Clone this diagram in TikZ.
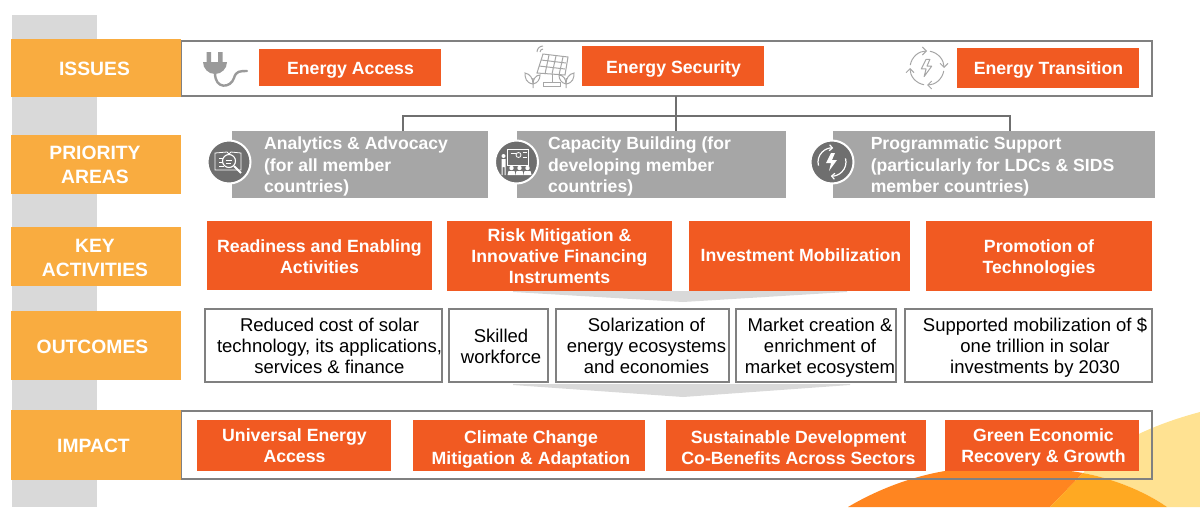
\documentclass[tikz,border=0pt]{standalone}
\usepackage{fontspec}
\setmainfont{Liberation Sans}
\usetikzlibrary{arrows.meta}
\definecolor{labelorange}{HTML}{F9AC40}
\definecolor{boxorange}{HTML}{F15A22}
\definecolor{areagray}{HTML}{A6A6A6}
\definecolor{icongray}{HTML}{6F6F6F}
\definecolor{linegray}{HTML}{808080}
\definecolor{stripgray}{HTML}{D9D9D9}
\newcommand{\boltshape}{(-1,-9) -- (-6,1) -- (-1,1) -- (-3,9) -- (5,-2) -- (0,-2) -- (3,-9) -- cycle}
% lines of a node: [column type]{right shift}{down shift}{text}
\newcommand{\placed}[4][c]{\hspace*{\dimexpr#2pt*2\relax}\raisebox{\dimexpr-7pt-#3pt\relax}[0pt][0pt]{\begin{tabular}{@{}#1@{}}#4\end{tabular}}}
\begin{document}
\begin{tikzpicture}[
    x=1pt,y=-1pt,
    every node/.style={inner sep=0,outer sep=0},
    rowlabel/.style={%
        fill=labelorange,text=white,font=\fontsize{19.3}{24}\selectfont\bfseries,
        minimum width=170},
    issuebox/.style={%
        fill=boxorange,text=white,font=\fontsize{17.7}{21}\selectfont\bfseries},
    areabox/.style={%
        fill=areagray,text=white,font=\fontsize{17.6}{21.5}\selectfont\bfseries},
    outcomebox/.style={%
        draw=linegray,line width=1.8pt,fill=white,text=black,
        font=\fontsize{18.5}{21}\selectfont},
    frame/.style={draw=linegray,line width=2pt},
    iconring/.style={circle,fill=icongray,draw=white,line width=2pt,minimum size=43},
    chevron/.style={fill=stripgray},
    link/.style={draw=icongray,line width=1.8pt},
    iconline/.style={draw=areagray,line width=1.2pt},
    iconwhite/.style={draw=white,line width=1pt},
]
    % Background
    \useasboundingbox (0,0) rectangle (1200,507);
    \fill[color={rgb,255:red,255;green,226;blue,146}] (1200,412) .. controls (1140,428) and (1105,450) .. (1083,473)
        .. controls (1120,480) and (1150,495) .. (1167,507) -- (1200,507) -- cycle;
    \fill[color={rgb,255:red,255;green,133;blue,32}] (848,507) .. controls (880,488) and (920,473) .. (960,469)
        .. controls (1000,465) and (1050,467) .. (1083,473) -- (1050,507) -- cycle;
    \fill[color={rgb,255:red,255;green,169;blue,34}] (1083,473) .. controls (1120,480) and (1150,495) .. (1167,507) -- (1050,507) -- cycle;
    \fill[stripgray] (12,15) rectangle (97,507);

    % Issues
    \node[frame,minimum width=971,minimum height=55] (issueframe) at (666.5,68.5) {};
    \node[rowlabel,minimum height=58] (issues) at (96,68) {\placed{-1.5}{1}{ISSUES}};
    \node[issuebox,minimum width=182,minimum height=37] (access) at (350,67.5) {\placed{0.5}{0.5}{Energy Access}};
    \node[issuebox,minimum width=182,minimum height=40] (security) at (673,66) {\placed{0.5}{1}{Energy Security}};
    \node[issuebox,minimum width=182,minimum height=40] (transition) at (1048,68) {\placed{0.5}{0}{Energy Transition}};

    % Priority areas
    \coordinate (forkl) at (403,116);
    \coordinate (forkm) at (676,116);
    \coordinate (forkr) at (1010,116);
    \node[rowlabel,minimum height=59] (priority) at (96,164.5) {\placed{-1}{0.5}{PRIORITY\\AREAS}};
    \node[areabox,minimum width=256,minimum height=67] (analytics) at (360,164.5)
        {\placed[l]{-4}{0}{Analytics \& Advocacy\\(for all member\\countries)}};
    \node[areabox,minimum width=269,minimum height=67] (capacity) at (651.5,164.5)
        {\placed[l]{-12}{0}{Capacity Building (for\\developing member\\countries)}};
    \node[areabox,minimum width=322,minimum height=67] (programmatic) at (994,164.5)
        {\placed[l]{-1.5}{0}{Programmatic Support\\(particularly for LDCs \& SIDS\\member countries)}};
    \draw[link] (forkl |- analytics.north) -- (forkl) -- (forkr) -- (forkr |- programmatic.north);
    \draw[link] (forkm |- issueframe.south) -- (forkm |- capacity.north);
    \node[iconring] (analyticsicon) at (229,162) {};
    \node[iconring] (capacityicon) at (516.5,162) {};
    \node[iconring] (programmaticicon) at (832,162) {};

    % Key activities
    \node[rowlabel,minimum height=59] (activities) at (96,256.5) {\placed{-1}{1.5}{KEY\\ACTIVITIES}};
    \node[issuebox,minimum width=225,minimum height=69] (readiness) at (319.5,255.5) {\placed{0}{1}{Readiness and Enabling\\Activities}};
    \node[issuebox,minimum width=225,minimum height=70] (risk) at (559.5,256) {\placed{0}{0}{Risk Mitigation \&\\Innovative Financing\\Instruments}};
    \node[issuebox,minimum width=221,minimum height=70] (investment) at (799.5,256) {\placed{1.5}{-1}{Investment Mobilization}};
    \node[issuebox,minimum width=226,minimum height=70] (promotion) at (1039,256) {\placed{0}{0.5}{Promotion of\\Technologies}};
    \fill[chevron] (513,291) -- (847,291) -- (847,292) -- (683,302) -- (513,292) -- cycle;

    % Outcomes
    \node[rowlabel,minimum height=69] (outcomes) at (96,345.5) {\placed{-3.5}{1.5}{OUTCOMES}};
    \node[outcomebox,minimum width=234,minimum height=73] (cost) at (323.5,345.5) {\placed{6}{0.5}{Reduced cost of solar\\technology, its applications,\\services \& finance}};
    \node[outcomebox,minimum width=99,minimum height=73] (workforce) at (498.5,345.5) {\placed{2.5}{1}{Skilled\\workforce}};
    \node[outcomebox,minimum width=173,minimum height=73] (solarization) at (642.5,345.5) {\placed{4}{0.5}{Solarization of\\energy ecosystems\\and economies}};
    \node[outcomebox,minimum width=160,minimum height=73] (market) at (816,345.5) {\placed{4}{0.5}{Market creation \&\\enrichment of\\market ecosystem}};
    \node[outcomebox,minimum width=247,minimum height=73] (mobilization) at (1028.5,345.5) {\placed{6.5}{0.5}{Supported mobilization of \$\\one trillion in solar\\investments by 2030}};
    \fill[chevron] (513,384) -- (850,384) -- (850,385) -- (683,397) -- (513,385) -- cycle;

    % Impact
    \node[frame,minimum width=971,minimum height=68] (impactframe) at (666.5,445) {};
    \node[rowlabel,minimum height=70] (impact) at (96,445) {\placed{-2.5}{1}{IMPACT}};
    \node[issuebox,minimum width=194,minimum height=51] (universal) at (294,445.5) {\placed{0.5}{0}{Universal Energy\\Access}};
    \node[issuebox,minimum width=232,minimum height=51] (climate) at (529,445.5) {\placed{2}{2}{Climate Change\\Mitigation \& Adaptation}};
    \node[issuebox,minimum width=260,minimum height=51] (sustainable) at (796,445.5) {\placed{2.5}{2}{Sustainable Development\\Co-Benefits Across Sectors}};
    \node[issuebox,minimum width=194,minimum height=51] (green) at (1042,445.5) {\placed{1.5}{0}{Green Economic\\Recovery \& Growth}};

    % Icons of the issues row
    \fill[icongray!70] (206.5,52) rectangle (211,62) (218,52) rectangle (222.5,62);
    \fill[icongray!70] (203,62) -- (227,62) arc[start angle=0,end angle=180,radius=12] -- cycle;
    \draw[icongray!70,line width=2.4pt,line cap=round] (215,73) .. controls (215,90) and (231,88) .. (234,78) .. controls (236,71) and (240,71) .. (247,71);
    \begin{scope}[iconline,line width=1pt]
        \draw (543,54) -- (568,57) -- (565,75) -- (537,73) -- cycle;
        \draw (541,60) -- (566,63) (539,66) -- (565,69) (549,55) -- (545,74) (556,56) -- (552,74) (563,57) -- (559,75);
        \draw (552,74) -- (552,82) (543,82) rectangle (560,86);
        \draw (540,52) arc[start angle=180,end angle=270,radius=3] (537,52) arc[start angle=180,end angle=270,radius=6];
        \draw (533,88) -- (533,78) (533,84) .. controls (526,83) and (525,78) .. (525,73) .. controls (530,74) and (533,78) .. (533,84);
        \draw (533,84) .. controls (538,83) and (540,79) .. (540,75) .. controls (536,75) and (533,79) .. (533,84);
        \draw (566,88) -- (566,78) (566,84) .. controls (573,83) and (574,78) .. (574,73) .. controls (569,74) and (566,78) .. (566,84);
        \draw (566,84) .. controls (561,83) and (559,79) .. (559,75) .. controls (563,75) and (566,79) .. (566,84);
    \end{scope}
    \begin{scope}[shift={(927,68)},iconline,line width=1pt]
        \foreach \startang in {10,100,190,280}
            \draw[-{Straight Barb[length=4pt,width=8pt]}] (\startang:17) arc[start angle=\startang,end angle=\startang+80,radius=17];
        \draw[line join=round,scale=0.95] \boltshape;
    \end{scope}

    % Icons of the priority areas
    \begin{scope}[shift={(229,162)},iconwhite,line width=0.8pt]
        \draw (-14,-9) -- (-2,-10) -- (0,-8) -- (2,-10) -- (12,-9) -- (12,8) -- (-14,8) -- cycle;
        \draw (-10,-4) -- (-5,-4) (-10,0) -- (-6,0) (-10,4) -- (-5,4);
        \draw[fill=icongray,line width=1.1pt] (0,-1) circle[radius=6.5];
        \draw (-3,-2) -- (3,-2) (-3,1) -- (2,1);
        \draw[line width=2pt] (5,4) -- (12,11);
    \end{scope}
    \begin{scope}[shift={(516.5,162)},iconwhite,line width=0.8pt]
        \draw (-9,-13) rectangle (12,3);
        \draw (-6,-9) -- (-1,-9) (6,-10) -- (10,-10) (6,-5) -- (10,-5);
        \draw (2,-7) circle[radius=2.5];
        \fill[white] (-13,-6) circle[radius=2] (-15,-3) rectangle (-11,5) (-15,5) rectangle (-14,13) (-12,5) rectangle (-11,13);
        \foreach \seatx in {-5,3,11}
            \fill[white] (\seatx,6) circle[radius=2.2] (\seatx-4,13) -- (\seatx-3,9) -- (\seatx+3,9) -- (\seatx+4,13) -- cycle;
    \end{scope}
    \begin{scope}[shift={(832,162)},iconwhite,line width=1.2pt]
        \draw[-{Straight Barb[length=3pt,width=6pt]}] (165:14) arc[start angle=165,end angle=275,radius=14];
        \draw[-{Straight Barb[length=3pt,width=6pt]}] (345:14) arc[start angle=345,end angle=455,radius=14];
        \fill[white] \boltshape;
    \end{scope}
\end{tikzpicture}
\end{document}
